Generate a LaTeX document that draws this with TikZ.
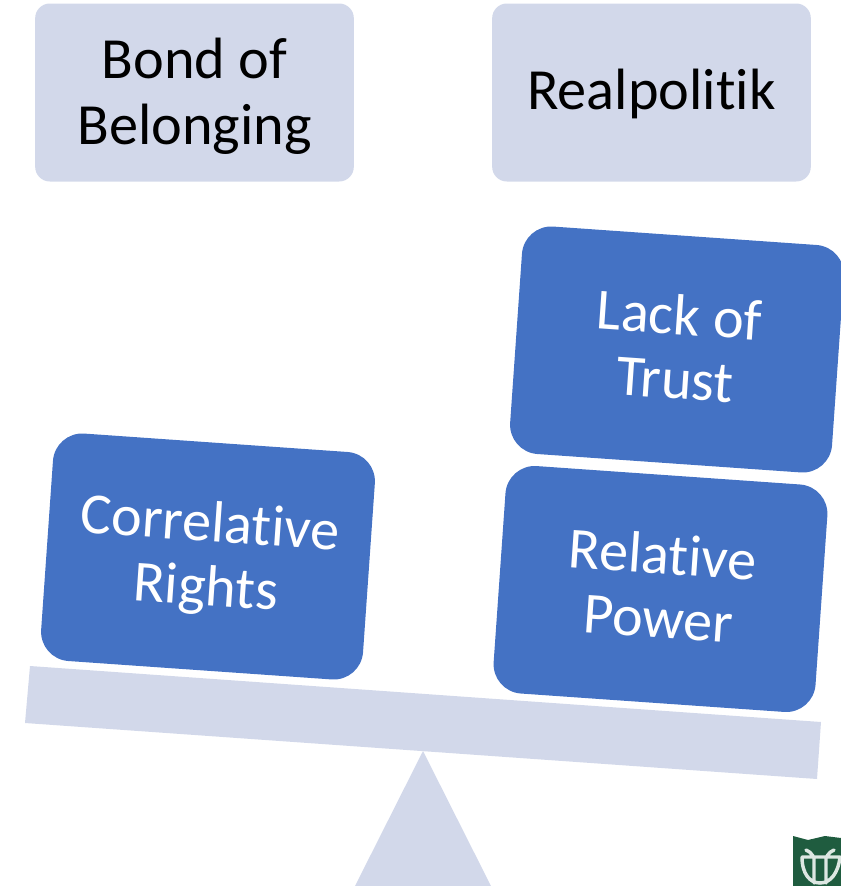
\documentclass[tikz,border=0pt]{standalone}
\usepackage{fontspec}
\setmainfont[RawFeature={-liga}]{Carlito}
\definecolor{pale}{HTML}{D2D8EA}
\definecolor{blu}{HTML}{4472C4}
\definecolor{crest}{HTML}{1F5C3F}
\newcommand{\twolines}[3]{\raisebox{#1}[0pt][0pt]{\begin{tabular}{@{}c@{}}#2\\#3\end{tabular}}}
\tikzset{
 topbox/.style={fill=pale,rounded corners=11pt,minimum width=239pt,minimum height=133.5pt,inner sep=0pt,align=center,font=\fontsize{43.7}{49.5}\selectfont,text=black},
 blk/.style={fill=blu,rounded corners=22pt,minimum width=242pt,minimum height=171pt,inner sep=0pt,align=center,font=\fontsize{43.7}{48}\selectfont,text=white,rotate=-4}
}
\begin{document}
\begin{tikzpicture}[x=0.75pt,y=-0.75pt]
\useasboundingbox (0,0) rectangle (841,886);
\clip (0,0) rectangle (841,886);
\fill[pale] (30,666) -- (821,722) -- (817,779) -- (25,723) -- cycle;
\fill[pale] (423,751) -- (491,886) -- (355,886) -- cycle;
\node[topbox] (bond) at (194.5,92.5) {\twolines{-10.9pt}{Bond of}{Belonging}};
\node[topbox] (real) at (651.5,92.5) {\raisebox{-13.1pt}[0pt][0pt]{Realpolitik}};
\node[blk] (corr) at (208,556.5) {\twolines{-9.4pt}{Correlative}{Rights}};
\node[blk] (rel) at (660.5,589) {\twolines{-9.4pt}{Relative}{Power}};
\node[blk] (lack) at (677,349.5) {\twolines{-9.4pt}{Lack of}{Trust}};
\fill[crest] (793,836) -- (808,840) -- (825,836) -- (841,838) -- (841,886) -- (793,886) -- cycle;
\draw[white!85!crest,line width=2.6pt,line cap=round] (802,857) -- (840,857) (802,857) .. controls (802,874) and (810,883) .. (820,883) .. controls (830,883) and (838,874) .. (840,857) (814,857) -- (814,883) (826,857) -- (826,883) (813,856) .. controls (811,853) and (809,851) .. (806,850) (827,856) .. controls (829,853) and (831,851) .. (834,850);
\end{tikzpicture}
\end{document}
